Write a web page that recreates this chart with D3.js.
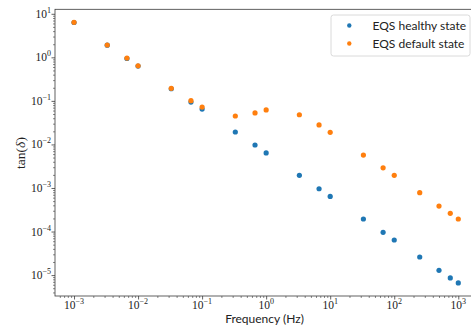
<!DOCTYPE html>
<html>
<head>
<meta charset="utf-8">
<script src="https://cdn.jsdelivr.net/npm/d3@7"></script>
<style>
  body { margin: 0; background: white; }
</style>
</head>
<body>
<div id="chart"></div>
<script>
// frequencies (Hz)
const freq = [0.001, 0.0033, 0.0067, 0.01, 0.033, 0.067, 0.1, 0.33, 0.67, 1,
              3.3, 6.7, 10, 33, 67, 100, 250, 500, 750, 1000];
// tan(delta) values
const healthy = [6.3, 1.9, 0.94, 0.63, 0.19, 0.094, 0.065, 0.0193, 0.0097, 0.0064,
                 0.00195, 0.00096, 0.00064, 0.000194, 0.000096, 0.000064, 0.000026, 0.0000129, 0.0000086, 0.0000066];
const faulty = [6.37, 1.92, 0.96, 0.64, 0.194, 0.101, 0.072, 0.045, 0.053, 0.062,
                0.048, 0.028, 0.019, 0.0057, 0.0029, 0.00195, 0.00078, 0.000385, 0.000262, 0.000194];
const seriesNames = ["EQS healthy state", "EQS default state"];
const colors = ["#1f77b4", "#ff7f0e"];
const xTickExp = [-3, -2, -1, 0, 1, 2, 3];
const yTickExp = [1, 0, -1, -2, -3, -4, -5];

const W = 471, H = 333;
const mLeft = 55, mRight = 475, mTop = 9.3, mBottom = 296;

const svg = d3.select('#chart')
    .append('svg')
    .attr('width', W)
    .attr('height', H);

const x = d3.scaleLog()
    .domain([Math.pow(10, -3.297), Math.pow(10, 3.261)])
    .range([mLeft, mRight]);

const y = d3.scaleLog()
    .domain([Math.pow(10, -5.48), Math.pow(10, 1.103)])
    .range([mBottom, mTop]);

// minor tick values
function minors(lo, hi) {
    const out = [];
    for (let e = lo; e <= hi; e++)
        for (let m = 2; m <= 9; m++) out.push(m * Math.pow(10, e));
    return out;
}
const xMinor = minors(-4, 3).filter(v => v >= x.domain()[0] && v <= x.domain()[1]);
const yMinor = minors(-6, 1).filter(v => v >= y.domain()[0] && v <= y.domain()[1]);

const axisColor = "#3a3a3a";

function styleAxis(g) {
    g.select('.domain').remove();
    g.selectAll('line').attr('stroke', axisColor).attr('stroke-width', 0.8);
}

// x axis ticks
svg.append('g')
    .attr('transform', `translate(0, ${mBottom})`)
    .call(d3.axisBottom(x).tickValues(xTickExp.map(e => Math.pow(10, e))).tickSize(3.5).tickFormat(''))
    .call(styleAxis);
svg.append('g')
    .attr('transform', `translate(0, ${mBottom})`)
    .call(d3.axisBottom(x).tickValues(xMinor).tickSize(2).tickFormat(''))
    .call(g => { g.select('.domain').remove(); g.selectAll('line').attr('stroke', axisColor).attr('stroke-width', 0.6); });

// y axis ticks
svg.append('g')
    .attr('transform', `translate(${mLeft}, 0)`)
    .call(d3.axisLeft(y).tickValues(yTickExp.map(e => Math.pow(10, e))).tickSize(3.5).tickFormat(''))
    .call(styleAxis);
svg.append('g')
    .attr('transform', `translate(${mLeft}, 0)`)
    .call(d3.axisLeft(y).tickValues(yMinor).tickSize(2).tickFormat(''))
    .call(g => { g.select('.domain').remove(); g.selectAll('line').attr('stroke', axisColor).attr('stroke-width', 0.6); });

// frame
svg.append('rect')
    .attr('x', mLeft).attr('y', mTop)
    .attr('width', mRight - mLeft).attr('height', mBottom - mTop)
    .attr('fill', 'none')
    .attr('stroke', axisColor)
    .attr('stroke-width', 0.8);

const serif = "'Liberation Serif', 'DejaVu Serif', serif";
const sans = "Lato, 'Open Sans', sans-serif";

function powLabel(sel) {
    sel.append('tspan').text('10');
    sel.append('tspan')
        .attr('dy', -5)
        .attr('font-size', 8)
        .text(d => d < 0 ? '\u2212' + (-d) : d);
}

// x tick labels
svg.append('g').selectAll('text')
    .data(xTickExp)
    .join('text')
    .attr('x', d => x(Math.pow(10, d)))
    .attr('y', 309)
    .attr('text-anchor', 'middle')
    .attr('font-family', serif)
    .attr('font-size', 11.5)
    .attr('fill', '#222')
    .call(powLabel);

// y tick labels
svg.append('g').selectAll('text')
    .data(yTickExp)
    .join('text')
    .attr('x', 51)
    .attr('y', d => y(Math.pow(10, d)) + 4)
    .attr('text-anchor', 'end')
    .attr('font-family', serif)
    .attr('font-size', 11.5)
    .attr('fill', '#222')
    .call(powLabel);

// axis titles
svg.append('text')
    .attr('x', 264.5)
    .attr('y', 322.5)
    .attr('text-anchor', 'middle')
    .attr('font-family', sans)
    .attr('font-size', 12)
    .attr('fill', '#222')
    .text('Frequency (Hz)');

const yl = svg.append('text')
    .attr('transform', 'translate(24.5, 153) rotate(-90)')
    .attr('text-anchor', 'middle')
    .attr('font-family', serif)
    .attr('font-size', 13.5)
    .attr('fill', '#222');
yl.append('tspan').text('tan(');
yl.append('tspan').attr('font-style', 'italic').text('\u03b4');
yl.append('tspan').text(')');

// points
const series = [healthy, faulty];
series.forEach((vals, i) => {
    svg.append('g').selectAll('circle')
        .data(freq.map((f, k) => ({ f: f, v: vals[k] })))
        .join('circle')
        .attr('cx', d => x(d.f))
        .attr('cy', d => y(d.v))
        .attr('r', 2.6)
        .attr('fill', colors[i]);
});

// legend
const lg = svg.append('g');
lg.append('rect')
    .attr('x', 331).attr('y', 15)
    .attr('width', 139).attr('height', 41)
    .attr('rx', 2.5)
    .attr('fill', 'white')
    .attr('fill-opacity', 0.8)
    .attr('stroke', '#d0d0d0')
    .attr('stroke-width', 0.8);
seriesNames.forEach((name, i) => {
    lg.append('circle')
        .attr('cx', 349.3)
        .attr('cy', 25.5 + i * 18)
        .attr('r', 2.2)
        .attr('fill', colors[i]);
    lg.append('text')
        .attr('x', 372.5)
        .attr('y', 30 + i * 18)
        .attr('font-family', sans)
        .attr('font-size', 12)
        .attr('fill', '#222')
        .text(name);
});
</script>
</body>
</html>
